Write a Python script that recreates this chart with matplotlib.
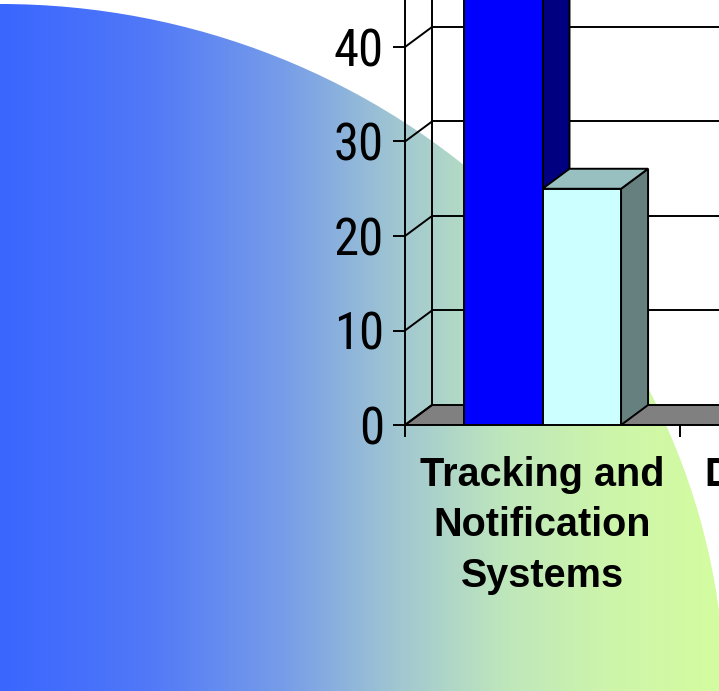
import numpy as np
import matplotlib
matplotlib.use("Agg")
import matplotlib.pyplot as plt
from matplotlib.colors import LinearSegmentedColormap
from matplotlib.patches import Ellipse, Polygon

# data (second category lies mostly outside the visible slide area)
categories = ["Tracking and\nNotification\nSystems", "Dispatching\nSystems"]
series_a = [47, 38]   # blue
series_b = [25, 20]   # light cyan
y_ticks = [0, 10, 20, 30, 40]

face_colors = ["#0000ff", "#ccffff"]
top_colors = ["#0000c0", "#99c0c0"]
side_colors = ["#000080", "#668080"]

W, H = 719, 691
fig = plt.figure(figsize=(W / 100, H / 100), dpi=100)

# slide background: big ellipse with a horizontal gradient
bg = fig.add_axes([0, 0, 1, 1])
bg.set_xlim(0, W)
bg.set_ylim(H, 0)
bg.axis("off")
grad = LinearSegmentedColormap.from_list("slide", [
    (0.0, (58/255, 102/255, 1.0)),
    (0.2, (80/255, 120/255, 248/255)),
    (0.4, (120/255, 158/255, 232/255)),
    (0.55, (160/255, 198/255, 210/255)),
    (0.7, (190/255, 230/255, 188/255)),
    (0.85, (205/255, 245/255, 170/255)),
    (1.0, (212/255, 252/255, 160/255)),
])
img = bg.imshow(np.linspace(0, 1, 256)[None, :], cmap=grad, aspect="auto",
                extent=[0, W, H, 0], zorder=0)
ell = Ellipse((0, 700), 2 * 725, 2 * 696, transform=bg.transData)
img.set_clip_path(ell)

# chart area
px_per_unit = 9.45
cat_px = 275
ymax = 50
ax = fig.add_axes([405 / W, 266 / H, 2 * cat_px / W, ymax * px_per_unit / H])
ax.set_facecolor("none")
ax.set_xlim(0, 2)
ax.set_ylim(0, ymax)

dx = 27 / cat_px
dy = 20 / px_per_unit
lw = 1.4

# floor
floor = Polygon([(0, 0), (2, 0), (2 + dx, dy), (dx, dy)], closed=True,
                facecolor="#808080", edgecolor="black", lw=lw, zorder=1)
ax.add_patch(floor)

# left wall and back wall grid
ax.plot([dx, dx], [dy, ymax + dy], color="black", lw=lw, zorder=1, clip_on=False)
for v in y_ticks + [ymax]:
    ax.plot([0, dx], [v, v + dy], color="black", lw=lw, zorder=1)
    if v > 0:
        ax.plot([dx, 2 + dx], [v + dy, v + dy], color="black", lw=lw, zorder=1)

# 3d bars, gap width 150%
bw = 1 / 3.5
values = [series_a, series_b]
for i in range(len(categories)):
    for s in range(len(values)):
        x0 = i + 0.75 * bw + s * bw
        x1 = x0 + bw
        v = values[s][i]
        z = 3 + i * 2 + s
        ax.add_patch(Polygon([(x1, 0), (x1 + dx, dy), (x1 + dx, v + dy), (x1, v)],
                             facecolor=side_colors[s], edgecolor="black", lw=lw, zorder=z))
        ax.add_patch(Polygon([(x0, v), (x1, v), (x1 + dx, v + dy), (x0 + dx, v + dy)],
                             facecolor=top_colors[s], edgecolor="black", lw=lw, zorder=z))
        ax.add_patch(Polygon([(x0, 0), (x1, 0), (x1, v), (x0, v)],
                             facecolor=face_colors[s], edgecolor="black", lw=lw, zorder=z))

for side in ["top", "right"]:
    ax.spines[side].set_visible(False)
ax.spines["left"].set_linewidth(lw)
ax.spines["bottom"].set_linewidth(lw)
ax.spines["left"].set_zorder(20)

ax.set_yticks(y_ticks)
ax.set_yticklabels([str(v) for v in y_ticks], family="Roboto Condensed")
ax.tick_params(axis="y", direction="out", length=8.6, width=lw, pad=6.5,
               labelsize=36.5)
ax.set_xticks([0, 1, 2])
ax.set_xticklabels([])
ax.tick_params(axis="x", which="major", direction="out", length=8.6, width=lw)
ax.set_xticks([0.5, 1.5], minor=True)
ax.set_xticklabels(categories, minor=True, fontsize=28.5, fontweight="bold",
                   family="Liberation Sans", linespacing=1.42)
ax.tick_params(axis="x", which="minor", length=0, pad=22)

fig.savefig("out.png", dpi=100)
